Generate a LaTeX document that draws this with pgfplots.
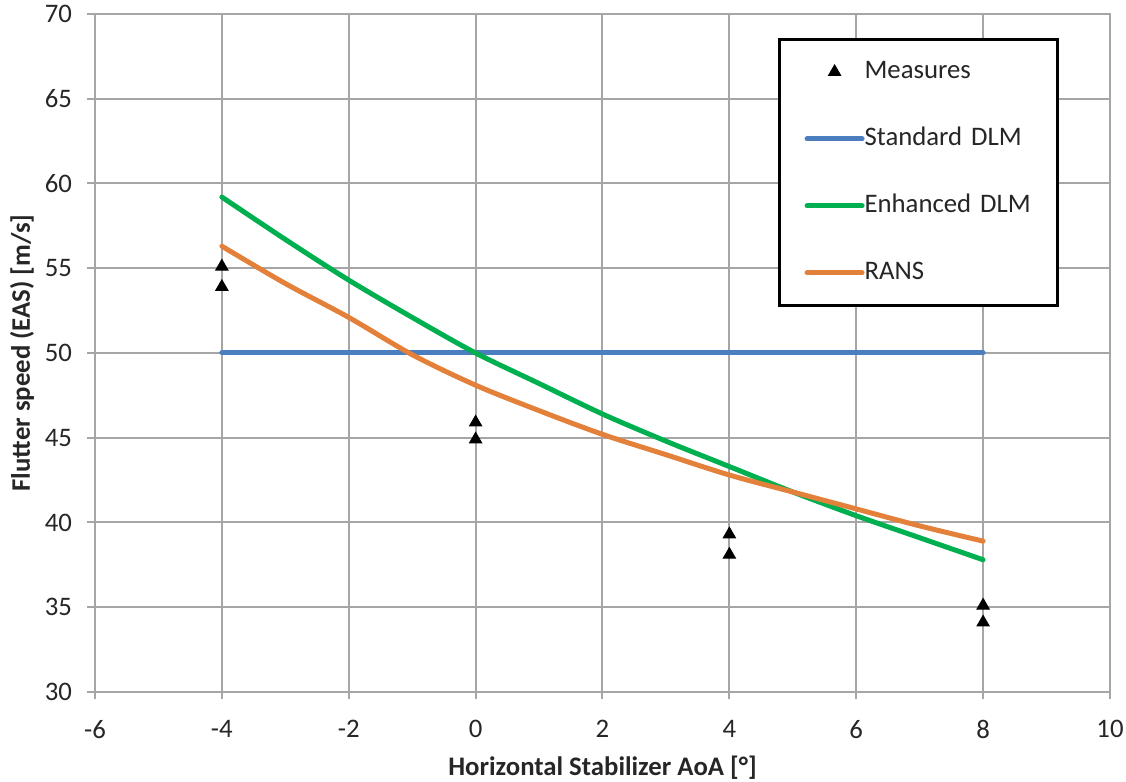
\documentclass[border=0pt]{standalone}
\usepackage{pgfplots}
\pgfplotsset{compat=1.18}
\usepackage{fontspec}
\setmainfont{Carlito}

\definecolor{stdblue}{HTML}{4A7EBF}
\definecolor{enhgreen}{HTML}{00B050}
\definecolor{ransorange}{HTML}{E3803A}
\definecolor{gridgray}{HTML}{A6A6A6}

\pgfplotsset{
  markonly legend/.style={
    legend image code/.code={\draw[##1] plot coordinates {(11pt,0pt)};}
  }
}

\begin{document}
\begin{tikzpicture}
\begin{axis}[
  scale only axis,
  width=406pt, height=271.2pt,
  xmin=-6, xmax=10, ymin=30, ymax=70,
  xtick={-6,-4,...,10},
  ytick={30,35,...,70},
  grid=major,
  grid style={gridgray, line width=0.8pt},
  axis line style={gridgray, line width=0.8pt},
  tick style={gridgray, line width=0.8pt},
  tick align=outside,
  major tick length=3pt,
  xtick pos=bottom, ytick pos=left,
  /pgf/number format/assume math mode=true,
  ticklabel style={font=\fontsize{10.7}{12}\selectfont, text=black!85},
  xticklabel style={anchor=north, inner sep=0pt, yshift=-8pt},
  yticklabel style={anchor=east, inner sep=0pt, xshift=-6pt},
  xlabel={Horizontal Stabilizer AoA [°]},
  ylabel={Flutter speed (EAS) [m/s]},
  label style={font=\bfseries\fontsize{10.7}{12}\selectfont, text=black!85},
  xlabel style={at={(rel axis cs:0.5,0)}, anchor=center, yshift=-30.4pt},
  ylabel style={at={(rel axis cs:0,0.5)}, anchor=center, yshift=29.2pt},
  legend cell align=left,
  legend image code/.code={\draw[#1] (0pt,0pt) -- (22pt,0pt);},
  legend style={
    at={(rel axis cs:0.673,0.9646)}, anchor=north west,
    draw=black, line width=1.2pt,
    inner xsep=10pt, inner ysep=9pt,
    row sep=18.8pt,
    font=\fontsize{10.7}{12}\selectfont,
    nodes={inner sep=0pt, text height=6.5pt, text depth=1.5pt,
           text width=67pt, xshift=0.8pt, text=black!85},
  },
]

% wind-tunnel flutter measurements
\addplot[only marks, mark=triangle*, mark size=2.8pt,
         mark options={fill=black, draw=black, line width=0.4pt},
         markonly legend]
  coordinates {
    (-4,55.1) (-4,53.9)
    (0,45.9) (0,44.9)
    (4,39.3) (4,38.1)
    (8,35.1) (8,34.1)
  };
\addlegendentry{Measures}

% standard doublet-lattice prediction
\addplot[stdblue, line width=2pt, line cap=round]
  coordinates {(-4,50) (0,50) (4,50) (8,50)};
\addlegendentry{Standard DLM}

% enhanced doublet-lattice prediction
\addplot[enhgreen, line width=2pt, line cap=round, smooth]
  coordinates {
    (-4,59.2) (-3,56.7) (-2,54.3) (-1,52.1) (0,50.0) (1,48.2) (2,46.4)
    (3,44.8) (4,43.3) (5,41.8) (6,40.4) (7,39.1) (8,37.8)
  };
\addlegendentry{Enhanced DLM}

% RANS-based prediction
\addplot[ransorange, line width=2pt, line cap=round, smooth]
  coordinates {
    (-4,56.3) (-3,54.1) (-2,52.1) (-1,49.9) (0,48.1) (1,46.6) (2,45.2)
    (3,44.0) (4,42.8) (5,41.8) (6,40.8) (7,39.8) (8,38.9)
  };
\addlegendentry{RANS}

\end{axis}
\pgfresetboundingbox
\useasboundingbox ([shift={(-38pt,-36pt)}]current axis.south west)
  rectangle ([shift={(6.4pt,5.6pt)}]current axis.north east);
\end{tikzpicture}
\end{document}
